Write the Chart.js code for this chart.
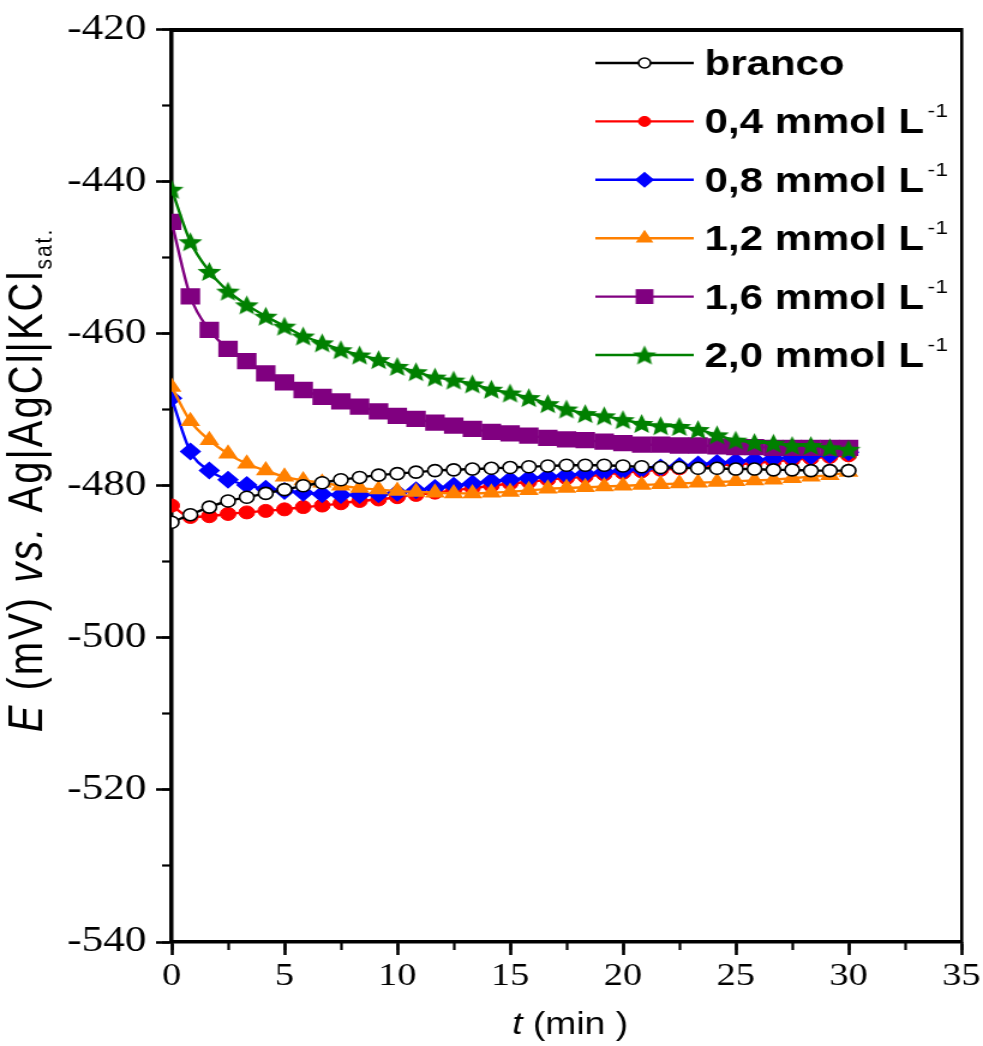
<!DOCTYPE html>
<html>
<head>
<meta charset="utf-8">
<script src="https://cdn.jsdelivr.net/npm/chart.js@4.4.0/dist/chart.umd.min.js"></script>
<style>
    html, body { margin: 0; padding: 0; background: #fff; overflow: hidden; }
</style>
</head>
<body>
<!-- the original figure is stretched sideways, so the canvas is drawn narrow and widened by css -->
<canvas id="potChart" width="819" height="1046" style="width:983px;height:1046px;display:block"></canvas>
<script>
// tempo (min) de cada ponto marcado
const tempo = [0, 0.83, 1.67, 2.5, 3.33, 4.17, 5, 5.83, 6.67, 7.5, 8.33, 9.17, 10, 10.83, 11.67,
    12.5, 13.33, 14.17, 15, 15.83, 16.67, 17.5, 18.33, 19.17, 20, 20.83, 21.67, 22.5, 23.33,
    24.17, 25, 25.83, 26.67, 27.5, 28.33, 29.17, 30];

// potencial (mV) vs. Ag|AgCl|KCl sat.
const branco = [-484.8, -483.8, -482.8, -482.0, -481.5, -481.0, -480.5, -480.0, -479.6, -479.2,
    -478.9, -478.6, -478.4, -478.2, -478.0, -477.9, -477.8, -477.7, -477.6, -477.5, -477.4,
    -477.3, -477.3, -477.3, -477.4, -477.5, -477.6, -477.6, -477.7, -477.7, -477.8, -477.8,
    -477.9, -477.9, -478.0, -478.0, -478.0];
const c04 = [-482.6, -484.1, -484.0, -483.7, -483.5, -483.3, -483.1, -482.8, -482.6, -482.3,
    -482.0, -481.8, -481.5, -481.2, -480.9, -480.6, -480.3, -480.0, -479.7, -479.5, -479.2,
    -479.0, -478.8, -478.5, -478.3, -478.1, -477.9, -477.7, -477.5, -477.3, -477.2, -477.0,
    -476.8, -476.6, -476.4, -476.2, -476.0];
const c08 = [-468.5, -475.5, -478.0, -479.2, -479.9, -480.4, -480.7, -480.9, -481.1, -481.2,
    -481.2, -481.1, -480.9, -480.6, -480.3, -480.0, -479.7, -479.4, -479.2, -479.0, -478.8,
    -478.6, -478.4, -478.2, -478.0, -477.8, -477.6, -477.4, -477.2, -477.0, -476.8, -476.6,
    -476.4, -476.3, -476.1, -475.9, -475.6];
const c12 = [-467.0, -471.5, -474.0, -475.8, -477.1, -478.0, -478.8, -479.3, -479.6, -480.0,
    -480.3, -480.5, -480.7, -480.8, -480.9, -481.0, -481.0, -480.9, -480.8, -480.6, -480.4,
    -480.3, -480.2, -480.1, -480.0, -479.9, -479.8, -479.7, -479.6, -479.5, -479.4, -479.3,
    -479.2, -479.0, -478.8, -478.6, -478.2];
const c16 = [-445.3, -455.1, -459.5, -462.0, -463.6, -465.2, -466.4, -467.4, -468.3, -468.9,
    -469.6, -470.2, -470.8, -471.2, -471.7, -472.1, -472.5, -472.9, -473.1, -473.4, -473.7,
    -473.9, -474.0, -474.2, -474.4, -474.6, -474.6, -474.7, -474.7, -474.8, -474.9, -474.9,
    -475.0, -475.0, -475.0, -475.0, -475.0];
const c20 = [-441.0, -447.9, -451.8, -454.4, -456.2, -457.7, -459.0, -460.3, -461.2, -462.1,
    -462.8, -463.4, -464.3, -465.0, -465.7, -466.1, -466.6, -467.3, -467.8, -468.4, -469.2,
    -469.9, -470.5, -470.8, -471.3, -471.8, -472.1, -472.2, -472.6, -473.3, -474.0, -474.3,
    -474.4, -474.7, -474.7, -475.0, -475.2];

const nomes = ['branco', '0,4 mmol L', '0,8 mmol L', '1,2 mmol L', '1,6 mmol L', '2,0 mmol L'];
const cores = ['#000000', '#ff0000', '#0000ff', '#ff8000', '#800080', '#008000'];

const xTicks = [0, 5, 10, 15, 20, 25, 30, 35];
const yTicks = [-420, -440, -460, -480, -500, -520, -540];

// estrela cheia (o Chart.js so tem estrela de linhas)
function starImage(color, size) {
    const c = document.createElement('canvas');
    c.width = size; c.height = size;
    const g = c.getContext('2d');
    const r1 = size / 2, r2 = size / 4.4;
    g.beginPath();
    for (let i = 0; i < 10; i++) {
        const r = i % 2 ? r2 : r1;
        const a = -Math.PI / 2 + i * Math.PI / 5;
        g.lineTo(size / 2 + r * Math.cos(a), size / 2 + 1 + r * Math.sin(a));
    }
    g.closePath();
    g.fillStyle = color;
    g.fill();
    return c;
}
const estrela = starImage('#008000', 21);

const marcadores = [
    { pointStyle: 'circle', radius: 6, bg: '#ffffff', bw: 1.6 },
    { pointStyle: 'circle', radius: 6.5, bg: cores[1], bw: 1 },
    { pointStyle: 'rectRot', radius: 9, bg: cores[2], bw: 0 },
    { pointStyle: 'triangle', radius: 9.5, bg: cores[3], bw: 0 },
    { pointStyle: 'rect', radius: 11.5, bg: cores[4], bw: 0 },
    { pointStyle: estrela, radius: 10, bg: cores[5], bw: 0 }
];
const series = [branco, c04, c08, c12, c16, c20];
const ordem = [2, 5, 4, 3, 1, 0];   // verde por cima de tudo

const datasets = series.map((vals, i) => ({
    label: nomes[i],
    data: vals.map((v, k) => ({ x: tempo[k], y: v })),
    borderColor: cores[i],
    backgroundColor: marcadores[i].bg,
    borderWidth: 2.4,
    pointStyle: marcadores[i].pointStyle,
    pointRadius: marcadores[i].radius,
    pointBorderColor: cores[i],
    pointBorderWidth: marcadores[i].bw,
    cubicInterpolationMode: 'monotone',
    order: ordem[i]
}));

// escreve pedacos de texto com fontes diferentes na mesma linha
function richWidth(ctx, parts) {
    let w = 0;
    parts.forEach(p => { ctx.font = p.font; w += ctx.measureText(p.text).width + (p.gap || 0); });
    return w;
}
function richText(ctx, parts, x, y) {
    parts.forEach(p => {
        ctx.font = p.font;
        ctx.fillText(p.text, x, y + (p.dy || 0));
        x += ctx.measureText(p.text).width + (p.gap || 0);
    });
}

const SANS = '"Liberation Sans", Arial, sans-serif';
const SERIF = '"Liberation Serif", "Times New Roman", serif';

const extras = {
    id: 'extras',
    afterDraw(chart) {
        const ctx = chart.ctx;
        ctx.save();
        ctx.fillStyle = '#000';
        ctx.textBaseline = 'alphabetic';
        ctx.textAlign = 'left';

        // titulo do eixo x
        const xt = [
            { text: 't', font: 'italic 31px ' + SANS },
            { text: ' (min )', font: '31px ' + SANS }
        ];
        const cx = (chart.chartArea.left + chart.chartArea.right) / 2;
        richText(ctx, xt, cx - richWidth(ctx, xt) / 2 + 3, 1034);

        // titulo do eixo y (girado)
        const yt = [
            { text: 'E', font: 'italic 40px ' + SANS },
            { text: ' (mV) ', font: '40px ' + SANS },
            { text: 'vs.', font: 'italic 40px ' + SANS },
            { text: ' Ag|AgCl|KCl', font: '40px ' + SANS },
            { text: 'sat.', font: '21px ' + SANS, dy: 8 }
        ];
        ctx.save();
        ctx.translate(35, 480);
        ctx.rotate(-Math.PI / 2);
        ctx.letterSpacing = '2px';
        richText(ctx, yt, -richWidth(ctx, yt) / 2, 0);
        ctx.restore();

        // legenda
        const y0 = 63, passo = 58.4;
        nomes.forEach((nome, i) => {
            const y = y0 + i * passo;
            ctx.strokeStyle = cores[i];
            ctx.lineWidth = 2.4;
            ctx.beginPath();
            ctx.moveTo(496, y);
            ctx.lineTo(578, y);
            ctx.stroke();
            const m = marcadores[i];
            ctx.fillStyle = m.bg;
            ctx.strokeStyle = cores[i];
            ctx.lineWidth = m.bw;
            Chart.helpers.drawPoint(ctx, {
                pointStyle: m.pointStyle, radius: i < 2 ? 5 : m.radius - 1,
                rotation: 0, borderWidth: m.bw
            }, 537, y);
            ctx.fillStyle = '#000';
            const parts = [{ text: nome, font: 'bold 35px ' + SANS, gap: 3 }];
            if (i > 0) parts.push({ text: '-1', font: '19px ' + SANS, dy: -16 });
            richText(ctx, parts, 587, y + 12);
        });
        ctx.restore();
    }
};

const tickFontY = { family: SERIF, size: 36 };
const tickFontX = { family: SERIF, size: 32 };

const ctx = document.getElementById('potChart').getContext('2d');
const potChart = new Chart(ctx, {
    type: 'line',
    data: { datasets: datasets },
    options: {
        responsive: false,
        animation: false,
        devicePixelRatio: 1,
        layout: { padding: { left: 0, right: 6, top: 25, bottom: 0 } },
        plugins: {
            legend: { display: false },
            tooltip: { enabled: false }
        },
        scales: {
            x: {
                type: 'linear', position: 'bottom', weight: 1, z: 1,
                min: xTicks[0], max: xTicks[xTicks.length - 1],
                afterBuildTicks: s => { s.ticks = xTicks.map(v => ({ value: v })); },
                ticks: { font: tickFontX, color: '#000', padding: 2, maxRotation: 0, autoSkip: false },
                grid: { drawOnChartArea: false, tickLength: 13, tickWidth: 2.6, tickColor: '#000' },
                border: { color: '#000', width: 3.5 },
                afterFit: s => { s.height = 104; }
            },
            xMinor: {
                type: 'linear', position: 'bottom', weight: 0, z: 1,
                min: 0, max: 35,
                ticks: { stepSize: 2.5, display: false },
                grid: { drawOnChartArea: false, tickLength: 8, tickWidth: 2.2, tickColor: '#000' },
                border: { display: false },
                afterFit: s => { s.height = 0; }
            },
            y: {
                type: 'linear', position: 'left', weight: 1, z: 1,
                min: yTicks[yTicks.length - 1], max: yTicks[0],
                afterBuildTicks: s => { s.ticks = yTicks.slice().reverse().map(v => ({ value: v })); },
                ticks: { font: tickFontY, color: '#000', padding: 8, autoSkip: false },
                grid: { drawOnChartArea: false, tickLength: 13, tickWidth: 2.6, tickColor: '#000' },
                border: { color: '#000', width: 3.5 },
                afterFit: s => { s.width = 143; }
            },
            yMinor: {
                type: 'linear', position: 'left', weight: 0, z: 1,
                min: -540, max: -420,
                ticks: { stepSize: 10, display: false },
                grid: { drawOnChartArea: false, tickLength: 8, tickWidth: 2.2, tickColor: '#000' },
                border: { display: false },
                afterFit: s => { s.width = 0; }
            },
            xTop: {
                type: 'linear', position: 'top', z: 1, min: 0, max: 35,
                ticks: { display: false },
                grid: { display: false, drawTicks: false },
                border: { color: '#000', width: 4 },
                afterFit: s => { s.height = 0; }
            },
            yRight: {
                type: 'linear', position: 'right', z: 1, min: -540, max: -420,
                ticks: { display: false },
                grid: { display: false, drawTicks: false },
                border: { color: '#000', width: 2.6 },
                afterFit: s => { s.width = 0; }
            }
        }
    },
    plugins: [extras]
});
</script>
</body>
</html>
